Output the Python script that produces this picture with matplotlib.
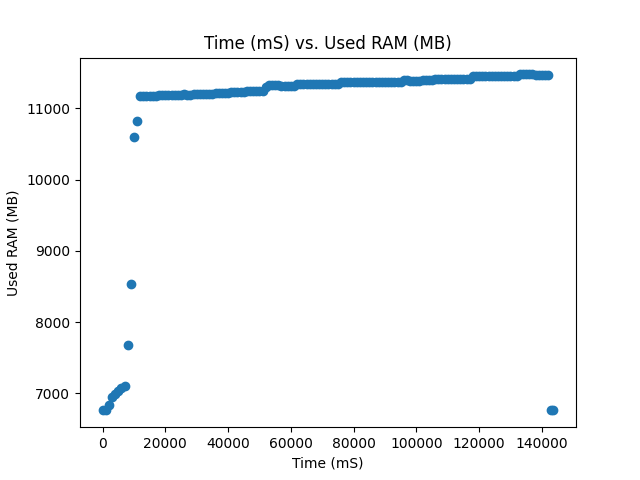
import matplotlib
matplotlib.use("Agg")
import matplotlib.pyplot as plt

# time stamps (mS)
time_ms = [0, 1000, 2000, 3000, 4000, 5000, 6000, 7000, 8000, 9000,
           10000, 11000, 12000, 13000, 14000, 15000, 16000, 17000, 18000, 19000,
           20000, 21000, 22000, 23000, 24000, 25000, 26000, 27000, 28000, 29000,
           30000, 31000, 32000, 33000, 34000, 35000, 36000, 37000, 38000, 39000,
           40000, 41000, 42000, 43000, 44000, 45000, 46000, 47000, 48000, 49000,
           50000, 51000, 52000, 53000, 54000, 55000, 56000, 57000, 58000, 59000,
           60000, 61000, 62000, 63000, 64000, 65000, 66000, 67000, 68000, 69000,
           70000, 71000, 72000, 73000, 74000, 75000, 76000, 77000, 78000, 79000,
           80000, 81000, 82000, 83000, 84000, 85000, 86000, 87000, 88000, 89000,
           90000, 91000, 92000, 93000, 94000, 95000, 96000, 97000, 98000, 99000,
           100000, 101000, 102000, 103000, 104000, 105000, 106000, 107000, 108000, 109000,
           110000, 111000, 112000, 113000, 114000, 115000, 116000, 117000, 118000, 119000,
           120000, 121000, 122000, 123000, 124000, 125000, 126000, 127000, 128000, 129000,
           130000, 131000, 132000, 133000, 134000, 135000, 136000, 137000, 138000, 139000,
           140000, 141000, 142000, 142900, 143700]

# used RAM (MB)
used_ram = [6760, 6765, 6840, 6945, 6985, 7030, 7070, 7105, 7675, 8540,
            10590, 10815, 11170, 11170, 11170, 11170, 11170, 11170, 11180, 11180,
            11180, 11180, 11180, 11180, 11180, 11190, 11195, 11185, 11185, 11200,
            11200, 11200, 11200, 11200, 11200, 11200, 11210, 11210, 11210, 11210,
            11210, 11225, 11225, 11225, 11225, 11225, 11240, 11240, 11240, 11240,
            11240, 11245, 11300, 11325, 11325, 11325, 11325, 11315, 11315, 11315,
            11315, 11315, 11335, 11335, 11335, 11335, 11335, 11335, 11335, 11335,
            11335, 11335, 11335, 11335, 11335, 11335, 11365, 11365, 11365, 11365,
            11365, 11365, 11365, 11365, 11365, 11365, 11365, 11365, 11375, 11375,
            11375, 11375, 11375, 11375, 11375, 11375, 11390, 11390, 11378, 11378,
            11378, 11378, 11395, 11395, 11395, 11395, 11410, 11410, 11410, 11410,
            11410, 11410, 11410, 11410, 11410, 11410, 11410, 11410, 11448, 11448,
            11448, 11448, 11448, 11448, 11448, 11448, 11448, 11448, 11448, 11448,
            11448, 11448, 11448, 11475, 11475, 11475, 11475, 11475, 11468, 11468,
            11468, 11468, 11468, 6760, 6760]

plt.figure(figsize=(6.4, 4.8), dpi=100)
plt.scatter(time_ms, used_ram)
plt.xlabel("Time (mS)")
plt.ylabel("Used RAM (MB)")
plt.title("Time (mS) vs. Used RAM (MB)")
plt.savefig("out.png")
